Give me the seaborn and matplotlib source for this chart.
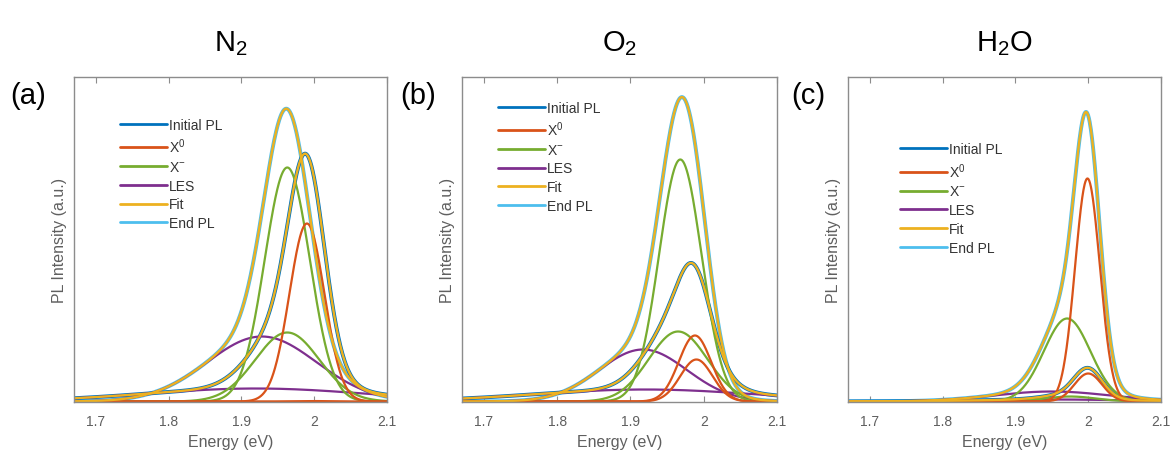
import numpy as np
import pandas as pd
import matplotlib
matplotlib.use("Agg")
import matplotlib.pyplot as plt
import seaborn as sns
from matplotlib.lines import Line2D

# ---------------- data ----------------
panel_tags = ["(a)", "(b)", "(c)"]
gas_titles = ["N$_2$", "O$_2$", "H$_2$O"]
series_labels = ["Initial PL", "X$^0$", "X$^{-}$", "LES", "Fit", "End PL"]
tick_values = [1.7, 1.8, 1.9, 2.0, 2.1]
tick_labels = ["1.7", "1.8", "1.9", "2", "2.1"]
energy_range = [1.67, 2.1]

# fitted peak parameters (centre eV, height a.u., width sigma eV); panel order N2, O2, H2O
init_x0_center = [1.990, 1.988, 2.000]
init_x0_height = [178, 66, 28]
init_x0_sigma = [0.024, 0.022, 0.019]
init_xm_center = [1.963, 1.965, 1.975]
init_xm_height = [69, 70, 5]
init_xm_sigma = [0.044, 0.040, 0.035]
init_les_center = [1.920, 1.920, 1.950]
init_les_height = [13, 12, 2]
init_les_sigma = [0.150, 0.150, 0.100]

end_x0_center = [1.990, 1.990, 1.999]
end_x0_height = [0.5, 42, 223]
end_x0_sigma = [0.025, 0.022, 0.017]
end_xm_center = [1.963, 1.968, 1.971]
end_xm_height = [234, 242, 83]
end_xm_sigma = [0.031, 0.029, 0.032]
end_les_center = [1.928, 1.917, 1.950]
end_les_height = [65, 52, 10]
end_les_sigma = [0.075, 0.060, 0.080]

# ---------------- style ----------------
sns.set_style("white")
plt.rcParams["font.family"] = ["Liberation Sans", "DejaVu Sans"]
plt.rcParams["mathtext.fontset"] = "custom"
plt.rcParams["mathtext.rm"] = "Liberation Sans"
plt.rcParams["mathtext.it"] = "Liberation Sans"
plt.rcParams["mathtext.default"] = "regular"

colors = ["#0072BD", "#D95319", "#77AC30", "#7E2F8E", "#EDB120", "#4DBEEE"]
spine_col = "#8c8c8c"
text_col = "#5f5f5f"

W, H = 1171, 452
fig = plt.figure(figsize=(W / 100, H / 100), dpi=100)
ax_lefts = [74, 462, 848]
ax_widths = [313, 315, 313]
ax_top, ax_bottom = 78, 403
legend_anchor = [(0.147, 0.874), (0.114, 0.927), (0.166, 0.799)]
tag_x = [28, 418, 808]

E = np.linspace(energy_range[0], energy_range[1], 800)


def peak(c, h, s):
    return h * np.exp(-((E - c) ** 2) / (2 * s ** 2))


for i in range(3):
    ax = fig.add_axes([ax_lefts[i] / W, (H - ax_bottom) / H,
                       ax_widths[i] / W, (ax_bottom - ax_top) / H])
    ix0 = peak(init_x0_center[i], init_x0_height[i], init_x0_sigma[i])
    ixm = peak(init_xm_center[i], init_xm_height[i], init_xm_sigma[i])
    iles = peak(init_les_center[i], init_les_height[i], init_les_sigma[i])
    ex0 = peak(end_x0_center[i], end_x0_height[i], end_x0_sigma[i])
    exm = peak(end_xm_center[i], end_xm_height[i], end_xm_sigma[i])
    eles = peak(end_les_center[i], end_les_height[i], end_les_sigma[i])
    ifit = ix0 + ixm + iles
    efit = ex0 + exm + eles

    sns.lineplot(x=E, y=efit, ax=ax, color=colors[5], lw=2.8)
    sns.lineplot(x=E, y=ifit, ax=ax, color=colors[0], lw=2.8)
    for comp, col in [(iles, colors[3]), (eles, colors[3]),
                      (ixm, colors[2]), (exm, colors[2]),
                      (ix0, colors[1]), (ex0, colors[1])]:
        sns.lineplot(x=E, y=comp, ax=ax, color=col, lw=1.6)
    sns.lineplot(x=E, y=efit, ax=ax, color=colors[4], lw=1.7)
    sns.lineplot(x=E, y=ifit, ax=ax, color=colors[4], lw=1.7)

    ax.set_xlim(*energy_range)
    ax.set_ylim(-0.5, ax_bottom - ax_top - 0.5)
    ax.set_xticks(tick_values)
    ax.set_xticklabels(tick_labels)
    ax.set_yticks([])
    ax.tick_params(axis="x", direction="in", length=4, width=0.8,
                   colors=spine_col, labelcolor=text_col, labelsize=10,
                   top=True, bottom=True, pad=9)
    for sp in ax.spines.values():
        sp.set_color(spine_col)
        sp.set_linewidth(1.0)
    ax.set_xlabel("Energy (eV)", fontsize=11.5, color=text_col, labelpad=4)
    ax.set_ylabel("PL Intensity (a.u.)", fontsize=11.5, color=text_col, labelpad=5)
    ax.set_title(gas_titles[i], fontsize=21, pad=19, color="black")

    handles = [Line2D([], [], color=c, lw=2) for c in colors]
    leg = ax.legend(handles, series_labels, loc="upper left",
                    bbox_to_anchor=legend_anchor[i], frameon=False,
                    fontsize=10, handlelength=3.4, handletextpad=0.15,
                    labelspacing=0.34, borderpad=0, borderaxespad=0)
    for t in leg.get_texts():
        t.set_color("#333333")

    fig.text(tag_x[i] / W, 1 - 96 / H, panel_tags[i], fontsize=21,
             ha="center", va="center", color="black")

fig.savefig("out.png", dpi=100)
